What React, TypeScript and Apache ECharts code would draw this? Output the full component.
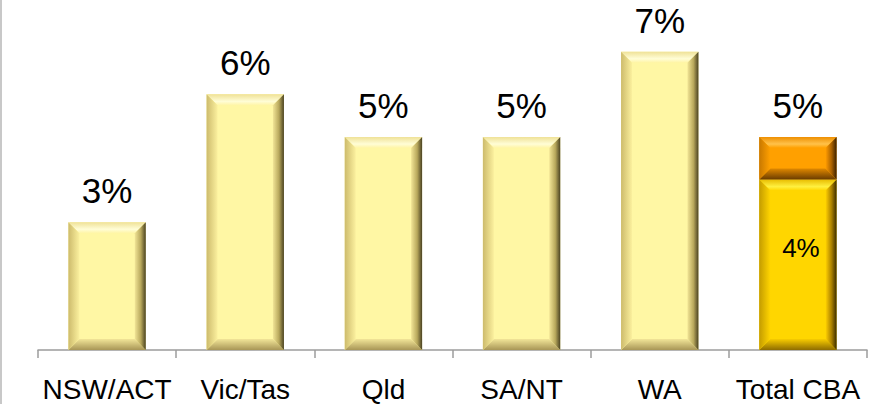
import React, { useEffect, useRef } from "react";
import * as echarts from "echarts";

const categories = ["NSW/ACT", "Vic/Tas", "Qld", "SA/NT", "WA", "Total CBA"];
const baseValues = [3, 6, 5, 5, 7, 4];
const topValues: (number | null)[] = [null, null, null, null, null, 1];
const totalLabel = "5%";

const FONT = "'Liberation Sans', Arial, Helvetica, sans-serif";

const palettes: Record<number, any> = {
  0: {
    face: "#FFF7A4",
    top: ["#EFE196", "#FFFDD6", "#FFF5A6"],
    left: ["#CDBB6C", "#FBF09E"],
    right: ["#F2E596", "#B8A85C", "#4A4222"],
    bottom: ["#F2E598", "#A89656"],
  },
  1: {
    face: "#FFD600",
    top: ["#E8BC00", "#FFF040", "#FFD600"],
    left: ["#C49C00", "#FFD400"],
    right: ["#FFD000", "#A87E00", "#3A2C00"],
    bottom: ["#F8CC00", "#8E6C00"],
  },
  2: {
    face: "#FFA000",
    top: ["#EE8E00", "#FFC24A", "#FFA000"],
    left: ["#C87800", "#FFA000"],
    right: ["#FF9C00", "#A86000", "#3A2000"],
    bottom: ["#E08800", "#6A3C00"],
  },
};

export default function App() {
  const ref = useRef<HTMLDivElement>(null);
  useEffect(() => {
    if (!ref.current) return;
    const chart = echarts.init(ref.current, null, { renderer: "svg" });

    const bevelData: number[][] = [];
    baseValues.forEach((v, i) => {
      bevelData.push([i, 0, v, i === 5 ? 1 : 0]);
    });
    topValues.forEach((v, i) => {
      if (v != null) bevelData.push([i, baseValues[i], baseValues[i] + v, 2]);
    });

    const LG = echarts.graphic.LinearGradient;
    const renderItem = (params: any, api: any) => {
      const i = api.value(0);
      const s = api.value(1);
      const e = api.value(2);
      const t = api.value(3);
      const p = palettes[t];
      const band = api.size([1, 0])[0];
      const w = band * 0.56;
      const c0 = api.coord([i, s]);
      const c1 = api.coord([i, e]);
      const x0 = c0[0] - w / 2;
      const x1 = c0[0] + w / 2;
      const yB = c0[1];
      const yT = c1[1];
      const b = 11;
      return {
        type: "group",
        children: [
          {
            type: "polygon",
            shape: { points: [[x0, yT], [x1, yT], [x1 - b, yT + b], [x0 + b, yT + b]] },
            style: {
              fill: new LG(0, 0, 0, 1, [
                { offset: 0, color: p.top[0] },
                { offset: 0.65, color: p.top[1] },
                { offset: 1, color: p.top[2] },
              ]),
            },
          },
          {
            type: "polygon",
            shape: { points: [[x0, yB], [x1, yB], [x1 - b, yB - b], [x0 + b, yB - b]] },
            style: {
              fill: new LG(0, 0, 0, 1, [
                { offset: 0, color: p.bottom[0] },
                { offset: 1, color: p.bottom[1] },
              ]),
            },
          },
          {
            type: "polygon",
            shape: { points: [[x0, yT], [x0 + b, yT + b], [x0 + b, yB - b], [x0, yB]] },
            style: {
              fill: new LG(0, 0, 1, 0, [
                { offset: 0, color: p.left[0] },
                { offset: 1, color: p.left[1] },
              ]),
            },
          },
          {
            type: "polygon",
            shape: { points: [[x1, yT], [x1 - b, yT + b], [x1 - b, yB - b], [x1, yB]] },
            style: {
              fill: new LG(0, 0, 1, 0, [
                { offset: 0, color: p.right[0] },
                { offset: 0.55, color: p.right[1] },
                { offset: 1, color: p.right[2] },
              ]),
            },
          },
        ],
      };
    };

    const option: any = {
      animation: false,
      backgroundColor: "#FFFFFF",
      textStyle: { fontFamily: FONT },
      grid: { left: 38, right: 10, top: 9, bottom: 54 },
      graphic: [
        {
          type: "rect",
          shape: { x: 0, y: 0, width: 2, height: 404 },
          style: { fill: "#C8C8C8" },
          silent: true,
        },
      ],
      xAxis: {
        type: "category",
        data: categories,
        boundaryGap: true,
        axisLine: { lineStyle: { color: "#9C9C9C", width: 1.5 } },
        axisTick: { show: true, length: 8, lineStyle: { color: "#9C9C9C", width: 1.5 } },
        axisLabel: {
          color: "#000000",
          fontSize: 28,
          fontFamily: FONT,
          margin: 25,
          interval: 0,
        },
      },
      yAxis: {
        type: "value",
        min: 0,
        max: 8,
        show: false,
        splitLine: { show: false },
      },
      series: [
        {
          type: "bar",
          name: "base",
          stack: "s",
          barWidth: "56%",
          z: 2,
          data: baseValues.map((v, i) => ({
            value: v,
            itemStyle: { color: i === 5 ? palettes[1].face : palettes[0].face },
            label:
              i === 5
                ? {
                    show: true,
                    position: "inside",
                    offset: [3, -17],
                    fontSize: 26,
                    color: "#000000",
                    fontFamily: FONT,
                    formatter: "{c}%",
                  }
                : {
                    show: true,
                    position: "top",
                    distance: 14,
                    fontSize: 35,
                    color: "#000000",
                    fontFamily: FONT,
                    formatter: "{c}%",
                  },
          })),
        },
        {
          type: "bar",
          name: "top",
          stack: "s",
          barWidth: "56%",
          z: 2,
          data: topValues.map((v) =>
            v == null
              ? null
              : {
                  value: v,
                  itemStyle: { color: palettes[2].face },
                  label: {
                    show: true,
                    position: "top",
                    distance: 14,
                    fontSize: 35,
                    color: "#000000",
                    fontFamily: FONT,
                    formatter: totalLabel,
                  },
                }
          ),
        },
        {
          type: "custom",
          name: "bevel",
          z: 3,
          silent: true,
          renderItem,
          encode: { x: 0, y: [1, 2] },
          data: bevelData,
        },
      ],
    };
    chart.setOption(option);
    return () => chart.dispose();
  }, []);
  return (
    <div
      ref={ref}
      style={{ position: "absolute", left: 0, top: 0, width: 877, height: 404 }}
    />
  );
}
